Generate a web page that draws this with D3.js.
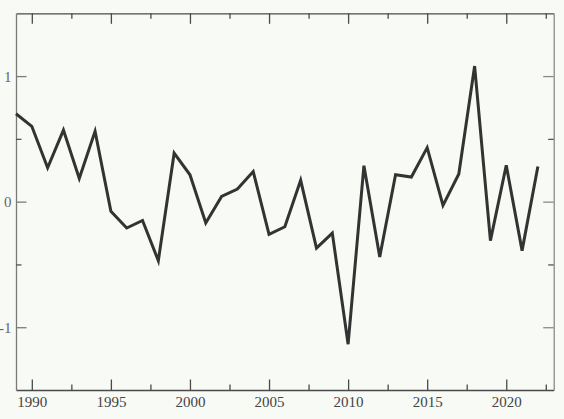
<!DOCTYPE html>
<html><head><meta charset="utf-8">
<script src="https://cdn.jsdelivr.net/npm/d3@7"></script>
<style>
html,body{margin:0;padding:0;background:#f8faf5;}
svg{display:block;}
</style></head>
<body>
<script>
const years = d3.range(1989, 2023);
const values = [0.70, 0.60, 0.27, 0.57, 0.185, 0.56, -0.077, -0.21, -0.15, -0.47,
  0.386, 0.214, -0.17, 0.042, 0.10, 0.24, -0.26, -0.20, 0.17, -0.37,
  -0.25, -1.135, 0.286, -0.44, 0.214, 0.196, 0.43, -0.03, 0.22, 1.08,
  -0.31, 0.29, -0.39, 0.28];
const xMajorTicks = [1990, 1995, 2000, 2005, 2010, 2015, 2020];
const xMinorTicks = [1992.5, 1997.5, 2002.5, 2007.5, 2012.5, 2017.5, 2022.5];
const yMajorTicks = [-1, 0, 1];
const yMinorTicks = [-0.5, 0.5];

const W = 564, H = 419;
const L = 16, R = 553.7, T = 13.3, B = 390;
const FONT = "Liberation Serif";
const svg = d3.select("body").append("svg").attr("width", W).attr("height", H);
const x = d3.scaleLinear().domain([1989, 2023]).range([L, R]);
const y = d3.scaleLinear().domain([-1.5, 1.5]).range([B, T]);

function style(g, col, textCol) {
  g.attr("font-family", FONT).attr("font-size", 15);
  g.select(".domain").attr("stroke", col).attr("stroke-width", 1.3);
  g.selectAll(".tick line").attr("stroke", col).attr("stroke-width", 1.3);
  g.selectAll(".tick text").attr("fill", textCol).attr("font-family", FONT).attr("font-size", 15);
}
// bottom
const gb = svg.append("g").attr("transform", `translate(0,${B})`)
  .call(d3.axisBottom(x).tickValues(xMajorTicks).tickFormat(d => String(d)).tickSizeInner(-10.5).tickSizeOuter(0));
style(gb, "#4a4a4a", "#444");
gb.selectAll(".tick text").attr("y", 17.3).attr("dy", null);
const gbm = svg.append("g").attr("transform", `translate(0,${B})`)
  .call(d3.axisBottom(x).tickValues(xMinorTicks).tickFormat("").tickSizeInner(-5.5).tickSizeOuter(0));
style(gbm, "#4a4a4a", "#444"); gbm.select(".domain").remove();
// top
const gt = svg.append("g").attr("transform", `translate(0,${T})`)
  .call(d3.axisTop(x).tickValues(xMajorTicks).tickFormat("").tickSizeInner(-10.5).tickSizeOuter(0));
style(gt, "#4a4a4a", "#444");
const gtm = svg.append("g").attr("transform", `translate(0,${T})`)
  .call(d3.axisTop(x).tickValues(xMinorTicks).tickFormat("").tickSizeInner(-5.5).tickSizeOuter(0));
style(gtm, "#4a4a4a", "#444"); gtm.select(".domain").remove();
// left
const gl = svg.append("g").attr("transform", `translate(${L},0)`)
  .call(d3.axisLeft(y).tickValues(yMajorTicks).tickFormat(d => (d < 0 ? "-" : "") + Math.abs(d)).tickSizeInner(-10.5).tickSizeOuter(0));
style(gl, "#7a7a7a", "#666");
gl.selectAll(".tick text").attr("x", -4.5).attr("dy", "0.35em");
const glm = svg.append("g").attr("transform", `translate(${L},0)`)
  .call(d3.axisLeft(y).tickValues(yMinorTicks).tickFormat("").tickSizeInner(-5.5).tickSizeOuter(0));
style(glm, "#555", "#666"); glm.select(".domain").remove();
// right
const gr = svg.append("g").attr("transform", `translate(${R},0)`)
  .call(d3.axisRight(y).tickValues(yMajorTicks).tickFormat("").tickSizeInner(-10.5).tickSizeOuter(0));
style(gr, "#8a8a8a", "#666");
const grm = svg.append("g").attr("transform", `translate(${R},0)`)
  .call(d3.axisRight(y).tickValues(yMinorTicks).tickFormat("").tickSizeInner(-5.5).tickSizeOuter(0));
style(grm, "#555", "#666"); grm.select(".domain").remove();

const line = d3.line().x((d, i) => x(years[i])).y(d => y(d));
svg.append("path").datum(values).attr("d", line)
  .attr("fill", "none").attr("stroke", "#333").attr("stroke-width", 3)
  .attr("stroke-linejoin", "miter");
</script>
</body></html>
